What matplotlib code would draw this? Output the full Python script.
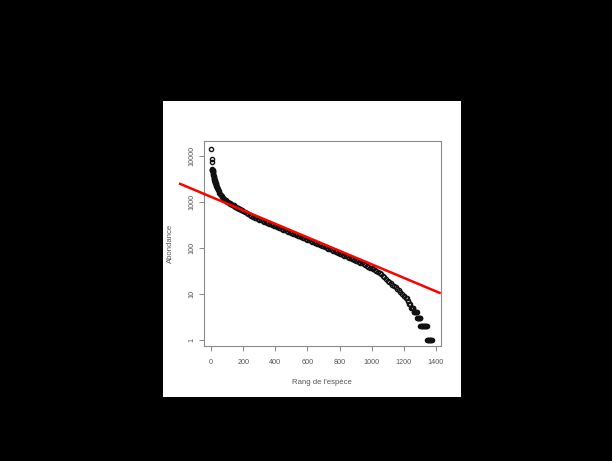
import matplotlib
matplotlib.use("Agg")
import matplotlib.pyplot as plt
from matplotlib.ticker import FixedLocator, FixedFormatter, NullLocator

plt.rcParams['font.family'] = ['Liberation Sans', 'DejaVu Sans']

# ---- data (rank, abundance) ----
head_rank = [1, 2, 3, 4, 5, 6, 7, 8, 9, 10, 11, 12, 13, 14, 15, 16, 17, 18, 19,
             20, 21, 22, 23, 24, 25, 26, 27, 28, 29, 30, 32, 34, 36, 38, 40, 43,
             46, 50, 55, 60, 65, 70, 75, 80, 85, 90, 95, 100, 105, 110, 115, 120,
             125, 130, 135, 140, 145, 150, 155, 160, 165, 170, 175, 180, 185]
head_abund = [14000, 8500, 7300, 5250, 5000, 4900, 4840, 4800, 4680, 4570, 4370,
              4170, 3980, 3800, 3630, 3470, 3350, 3240, 3130, 3020, 2930, 2840,
              2750, 2690, 2630, 2570, 2510, 2450, 2400, 2340, 2240, 2140, 2040,
              1950, 1860, 1760, 1680, 1580, 1490, 1410, 1330, 1260, 1200, 1150,
              1100, 1070, 1030, 1000, 977, 955, 933, 912, 891, 870, 850, 830, 803,
              776, 760, 745, 730, 715, 702, 690, 671]

body_rank = [190, 200, 210, 220, 230, 240, 250, 260, 270, 280, 290, 300, 310, 320,
             330, 340, 350, 360, 370, 380, 390, 400, 410, 420, 430, 440, 450, 460,
             470, 480, 490, 500, 510, 520, 530, 540, 550, 560, 570, 580, 590, 600,
             610, 620, 630, 640, 650, 660, 670, 680, 690, 700, 710, 720, 730, 740,
             750, 760, 770, 780, 790, 800, 810, 820, 830, 840, 850, 860, 870, 880,
             890, 900, 910, 920, 930, 940, 950, 960, 970, 980, 990, 1000, 1010,
             1020, 1030, 1040, 1050, 1060, 1070, 1080, 1090, 1100, 1110, 1120,
             1130, 1140, 1150, 1160, 1170, 1180, 1190, 1200]
body_abund = [653, 617, 589, 562, 537, 513, 490, 471, 454, 437, 423, 409, 395, 382,
              370, 357, 346, 334, 323, 313, 302, 292, 283, 273, 264, 256, 247, 239,
              231, 224, 216, 209, 202, 196, 189, 183, 177, 171, 166, 160, 155, 150,
              145, 140, 136, 131, 127, 123, 119, 115, 111, 107, 103, 100, 96, 93,
              90, 87, 84, 81, 78, 75, 72, 70, 67, 65, 63, 61, 59, 57,
              55, 53, 51, 49, 47, 46, 44, 43, 41, 39, 37, 36, 34,
              33, 31, 30, 28, 27, 25, 23, 21, 19, 18, 17,
              16, 15, 14, 13, 12, 11, 10, 9]

tail_rank = [1205, 1212, 1218, 1224, 1230, 1236, 1242, 1248, 1252, 1256, 1259,
             1262, 1266, 1270, 1274, 1278, 1281,
             1283, 1287, 1291, 1295, 1299, 1303,
             1305, 1309, 1313, 1317, 1321, 1325, 1329, 1333, 1337, 1341, 1344,
             1346, 1350, 1354, 1358, 1362, 1366, 1370, 1374]
tail_abund = [9, 8, 8, 7, 7, 6, 6, 5, 5, 5, 5,
              4, 4, 4, 4, 4, 4,
              3, 3, 3, 3, 3, 3,
              2, 2, 2, 2, 2, 2, 2, 2, 2, 2, 2,
              1, 1, 1, 1, 1, 1, 1, 1]

# fitted line (log10 abundance = a + b * rank)
fit_intercept = 3.105
fit_slope = -0.001462
fit_x = [-201, 1431]

x_ticks = [0, 200, 400, 600, 800, 1000, 1200, 1400]
y_ticks = [1, 10, 100, 1000, 10000]
y_tick_labels = ["1", "10", "100", "1000", "10000"]

ranks = head_rank + body_rank + tail_rank
abund = head_abund + body_abund + tail_abund

# ---- figure ----
W, H = 612, 461
fig = plt.figure(figsize=(W / 100, H / 100), dpi=100, facecolor='black')

# white plotting panel
bg = fig.add_axes([163 / W, 1 - 397 / H, 298 / W, 296 / H], zorder=-1)
bg.set_facecolor('white')
bg.set_xticks([])
bg.set_yticks([])
for s in bg.spines.values():
    s.set_visible(False)

l, r, t, b = 203.7, 440.7, 140.7, 346.4
ax = fig.add_axes([l / W, 1 - b / H, (r - l) / W, (b - t) / H], zorder=1)
ax.set_facecolor('white')

ax.plot(ranks, abund, linestyle='none', marker='o', markersize=3.0,
        markerfacecolor='none', markeredgecolor='#111111', markeredgewidth=1.0,
        zorder=2)

fy = [10 ** (fit_intercept + fit_slope * xv) for xv in fit_x]
ax.plot(fit_x, fy, color='#ff0000', linewidth=1.8, clip_on=False, zorder=3,
        solid_capstyle='butt')

ax.set_yscale('log')
ax.set_xlim(-47, 1431)
ax.set_ylim(10 ** -0.139, 10 ** 4.325)

ax.xaxis.set_major_locator(FixedLocator(x_ticks))
ax.set_xticklabels([str(v) for v in x_ticks])
ax.yaxis.set_major_locator(FixedLocator(y_ticks))
ax.yaxis.set_major_formatter(FixedFormatter(y_tick_labels))
ax.yaxis.set_minor_locator(NullLocator())

txt = '#555555'
edge = '#8a8a8a'
for s in ax.spines.values():
    s.set_color(edge)
    s.set_linewidth(0.8)
ax.tick_params(axis='both', which='major', length=3.3, width=0.7, color=edge,
               labelsize=5.2, labelcolor=txt)
ax.tick_params(axis='x', pad=5.6)
ax.tick_params(axis='y', pad=3.0)
for lab in ax.get_yticklabels():
    lab.set_rotation(90)
    lab.set_va('center')

ax.set_xlabel("Rang de l'espèce", fontsize=5.6, color=txt, va='center')
ax.xaxis.set_label_coords(0.5, (b - 382.7) / (b - t))
ax.set_ylabel("Abondance", fontsize=5.6, color=txt, va='center')
ax.yaxis.set_label_coords((170.3 - l) / (r - l), 0.5)

fig.savefig('out.png', dpi=100, facecolor='black')
